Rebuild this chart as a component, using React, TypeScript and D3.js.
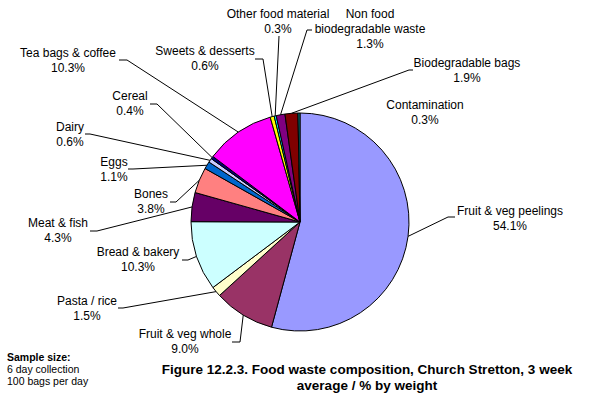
import React from "react";
import * as d3 from "d3";

const categories = [
  "Fruit & veg peelings",
  "Fruit & veg whole",
  "Pasta / rice",
  "Bread & bakery",
  "Meat & fish",
  "Bones",
  "Eggs",
  "Dairy",
  "Cereal",
  "Tea bags & coffee",
  "Sweets & desserts",
  "Other food material",
  "Non food biodegradable waste",
  "Biodegradable bags",
  "Contamination",
];
const values = [54.1, 9.0, 1.5, 10.3, 4.3, 3.8, 1.1, 0.6, 0.4, 10.3, 0.6, 0.3, 1.3, 1.9, 0.3];
const valueLabels = ["54.1%", "9.0%", "1.5%", "10.3%", "4.3%", "3.8%", "1.1%", "0.6%", "0.4%", "10.3%", "0.6%", "0.3%", "1.3%", "1.9%", "0.3%"];
const colors = [
  "#9999FF", "#993366", "#FFFFCC", "#CCFFFF", "#660066", "#FF8080", "#0066CC", "#CCCCFF",
  "#000080", "#FF00FF", "#FFFF00", "#00FFFF", "#800080", "#800000", "#008080",
];
// label text lines (name lines)
const labelLines: string[][] = [
  ["Fruit & veg peelings"],
  ["Fruit & veg whole"],
  ["Pasta / rice"],
  ["Bread & bakery"],
  ["Meat & fish"],
  ["Bones"],
  ["Eggs"],
  ["Dairy"],
  ["Cereal"],
  ["Tea bags & coffee"],
  ["Sweets & desserts"],
  ["Other food material"],
  ["Non food", "biodegradable waste"],
  ["Biodegradable bags"],
  ["Contamination"],
];
// layout: label center x, first baseline y, leader start, elbow (null = no leader)
const labelLayout: { x: number; y: number; lead: null | [number, number, number, number] }[] = [
  { x: 510, y: 215, lead: [455, 217, 448, 217] },
  { x: 185, y: 338, lead: [232, 342, 240, 342] },
  { x: 87, y: 305, lead: [118, 308, 123, 308] },
  { x: 138, y: 256, lead: [182, 260, 188, 260] },
  { x: 58, y: 227, lead: [90, 231, 97, 231] },
  { x: 151, y: 198, lead: [170, 202, 176, 202] },
  { x: 114, y: 166, lead: [128, 169, 133, 169] },
  { x: 70, y: 131, lead: [85, 134, 90, 134] },
  { x: 130, y: 100, lead: [150, 104, 157, 104] },
  { x: 68, y: 57, lead: [119, 60, 127, 60] },
  { x: 205, y: 55, lead: [255, 59, 263, 59] },
  { x: 278, y: 18, lead: [279, 36, 279, 36] },
  { x: 370, y: 18, lead: [312, 30, 307, 30] },
  { x: 467, y: 67, lead: [413, 70, 409, 70] },
  { x: 425, y: 109, lead: null },
];
const titleLines = ["Figure 12.2.3. Food waste composition, Church Stretton, 3 week", "average / % by weight"];
const noteLines = ["Sample size:", "6 day collection", "100 bags per day"];

const W = 590;
const H = 394;
const CX = 300;
const CY = 222;
const R = 109;
const FONT = "'Liberation Sans', Arial, sans-serif";

export default function App() {
  const data = values.map((v, i) => ({ v, i }));
  const pie = d3.pie<{ v: number; i: number }>().sort(null).value((d) => d.v).startAngle(0).endAngle(2 * Math.PI);
  const arcs = pie(data);
  const arc = d3.arc<d3.PieArcDatum<{ v: number; i: number }>>().innerRadius(0).outerRadius(R);

  return (
    <svg width={W} height={H} style={{ position: "absolute", left: 0, top: 0, background: "#fff" }} fontFamily={FONT}>
      <rect x={0} y={0} width={W} height={H} fill="#fff" />
      <g transform={`translate(${CX},${CY})`}>
        {arcs.map((a) => (
          <path key={a.index} d={arc(a) || ""} fill={colors[a.index]} stroke="#000" strokeWidth={1} strokeLinejoin="round" />
        ))}
      </g>
      {arcs.map((a) => {
        const L = labelLayout[a.index];
        if (!L.lead) return null;
        const mid = (a.startAngle + a.endAngle) / 2;
        const ex = CX + R * Math.sin(mid);
        const ey = CY - R * Math.cos(mid);
        const [sx, sy, bx, by] = L.lead;
        return (
          <polyline key={"l" + a.index} points={`${sx},${sy} ${bx},${by} ${ex},${ey}`} fill="none" stroke="#000" strokeWidth={1} />
        );
      })}
      {arcs.map((a) => {
        const L = labelLayout[a.index];
        const lines = [...labelLines[a.index], valueLabels[a.index]];
        return (
          <text key={"t" + a.index} x={L.x} y={L.y} fontSize={12} textAnchor="middle" fill="#000">
            {lines.map((ln, k) => (
              <tspan key={k} x={L.x} y={L.y + k * 15}>
                {ln}
              </tspan>
            ))}
          </text>
        );
      })}
      <text x={367} y={374} fontSize={13.5} fontWeight="bold" textAnchor="middle" fill="#000">
        {titleLines.map((ln, k) => (
          <tspan key={k} x={367} y={374 + k * 16}>
            {ln}
          </tspan>
        ))}
      </text>
      <text x={7} y={361} fontSize={10.5} fill="#000">
        {noteLines.map((ln, k) => (
          <tspan key={k} x={7} y={361 + k * 12} fontWeight={k === 0 ? "bold" : "normal"}>
            {ln}
          </tspan>
        ))}
      </text>
    </svg>
  );
}
